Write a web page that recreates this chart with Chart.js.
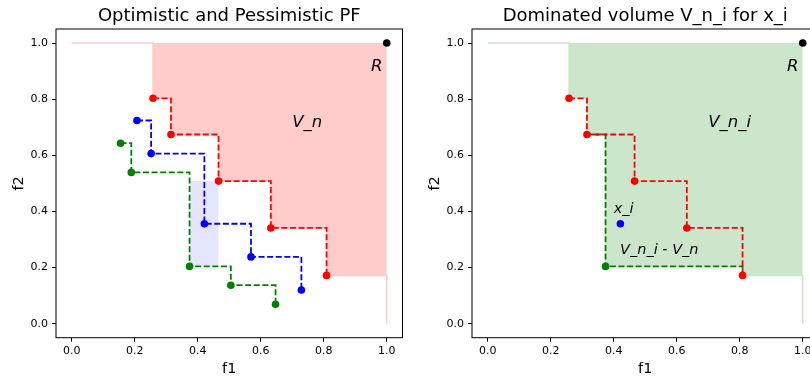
<!DOCTYPE html>
<html>
<head>
<meta charset="utf-8">
<script src="https://cdn.jsdelivr.net/npm/chart.js@4.4.1/dist/chart.umd.min.js"></script>
<style>
  html, body { margin: 0; padding: 0; background: #fff; overflow: hidden; }
  #wrap { position: relative; width: 810px; height: 376px; overflow: hidden; }
  canvas { position: absolute; top: 0; }
</style>
</head>
<body>
<div id="wrap">
  <canvas id="left" width="410" height="376" style="left:0px"></canvas>
  <canvas id="right" width="410" height="376" style="left:416px"></canvas>
</div>
<script>
// pessimistic (red), candidate (blue), optimistic (green) fronts
const redF1 = [0.258, 0.315, 0.466, 0.632, 0.809];
const redF2 = [0.803, 0.674, 0.508, 0.341, 0.172];
const blueF1 = [0.207, 0.252, 0.421, 0.569, 0.729];
const blueF2 = [0.724, 0.606, 0.356, 0.238, 0.120];
const greenF1 = [0.155, 0.189, 0.374, 0.505, 0.647];
const greenF2 = [0.643, 0.539, 0.204, 0.137, 0.069];
const refF1 = [1.0];
const refF2 = [1.0];
const xiF1 = [0.421];
const xiF2 = [0.356];
// dominated volume of the red front (step-post, up to R)
const vnF1 = [0, 0.258, 0.315, 0.466, 0.632, 0.809, 1.0];
const vnF2 = [1, 0.803, 0.674, 0.508, 0.341, 0.172, 0];
// dominated volume once the green point is added
const vniF1 = [0, 0.258, 0.315, 0.374, 0.809, 1.0];
const vniF2 = [1, 0.803, 0.674, 0.204, 0.172, 0];
const newF1 = [0.315, 0.374, 0.809];
const newF2 = [0.674, 0.204, 0.172];
const tickVals = [0, 0.2, 0.4, 0.6, 0.8, 1.0];

const FONT = '"DejaVu Sans", sans-serif';

function pts(xs, ys) { return xs.map((x, i) => ({ x: x, y: ys[i] })); }

function stepLine(xs, ys, color, radius) {
  return {
    data: pts(xs, ys), borderColor: color, backgroundColor: color,
    borderWidth: 1.8, borderDash: [6, 2.6], stepped: true, fill: false,
    pointRadius: radius === undefined ? 3.8 : radius, pointBorderWidth: 0,
    pointBackgroundColor: color
  };
}

function dots(xs, ys, color) {
  return {
    data: pts(xs, ys), showLine: false, borderColor: color, backgroundColor: color,
    pointRadius: 3.8, pointBorderWidth: 0, pointBackgroundColor: color
  };
}

function region(xs, ys, color, top, bw) {
  return {
    data: pts(xs, ys), borderColor: color, backgroundColor: color,
    borderWidth: bw, stepped: true, fill: { value: top }, pointRadius: 0
  };
}

function axes() {
  const tickFont = { family: FONT, size: 11 };
  const grid = { drawOnChartArea: false, drawTicks: true, tickLength: 4, color: '#000', lineWidth: 1 };
  return {
    x: {
      type: 'linear', min: -0.05, max: 1.05,
      afterBuildTicks: s => { s.ticks = tickVals.map(v => ({ value: v })); },
      afterFit: s => { s.height = 38.3; },
      ticks: { font: tickFont, color: '#000', padding: 3, maxRotation: 0, autoSkip: false,
               callback: v => Number(v).toFixed(1) },
      grid: grid, border: { display: false }
    },
    y: {
      type: 'linear', min: -0.05, max: 1.05,
      afterBuildTicks: s => { s.ticks = tickVals.map(v => ({ value: v })); },
      afterFit: s => { s.width = 56; },
      ticks: { font: tickFont, color: '#000', padding: 4, autoSkip: false,
               callback: v => Number(v).toFixed(1) },
      grid: grid, border: { display: false }
    }
  };
}

function decor(title, notes) {
  return {
    id: 'decor',
    afterDatasetsDraw(chart) {
      const { ctx, scales: { x, y } } = chart;
      ctx.save();
      ctx.fillStyle = '#000';
      ctx.textBaseline = 'alphabetic';
      ctx.textAlign = 'left';
      notes.forEach(n => {
        ctx.font = 'italic ' + n.size + 'px ' + FONT;
        ctx.fillText(n.text, x.getPixelForValue(n.x), y.getPixelForValue(n.y));
      });
      ctx.restore();
    },
    afterDraw(chart) {
      const { ctx, chartArea: a } = chart;
      ctx.save();
      ctx.strokeStyle = '#000';
      ctx.lineWidth = 1;
      ctx.strokeRect(a.left, a.top, a.right - a.left, a.bottom - a.top);
      ctx.fillStyle = '#000';
      ctx.textAlign = 'center';
      ctx.textBaseline = 'alphabetic';
      const cx = (a.left + a.right) / 2;
      ctx.font = '18px ' + FONT;
      ctx.fillText(title, cx, 21);
      ctx.font = '14.5px ' + FONT;
      ctx.fillText('f1', cx, 373);
      ctx.translate(23.3, (a.top + a.bottom) / 2);
      ctx.rotate(-Math.PI / 2);
      ctx.fillText('f2', 0, 0);
      ctx.restore();
    }
  };
}

function baseOptions() {
  return {
    responsive: false, animation: false, devicePixelRatio: 1,
    layout: { padding: { top: 29, left: 0, right: 7.5, bottom: 0 } },
    plugins: { legend: { display: false }, tooltip: { enabled: false }, title: { display: false } },
    scales: axes()
  };
}

new Chart(document.getElementById('left').getContext('2d'), {
  type: 'line',
  data: {
    datasets: [
      dots(refF1, refF2, '#000000'),
      stepLine(redF1, redF2, '#ff0000'),
      stepLine(blueF1, blueF2, '#0000ff'),
      stepLine(greenF1, greenF2, '#008000'),
      region([greenF1[2], redF1[2]], [greenF2[2], greenF2[2]], '#e5e5ff', redF2[2], 0),
      region(vnF1, vnF2, '#ffcccc', 1, 1.5)
    ]
  },
  options: baseOptions(),
  plugins: [decor('Optimistic and Pessimistic PF', [
    { text: 'V_n', x: 0.70, y: 0.70, size: 16.5 },
    { text: 'R', x: 0.95, y: 0.90, size: 16.5 }
  ])]
});

new Chart(document.getElementById('right').getContext('2d'), {
  type: 'line',
  data: {
    datasets: [
      dots(refF1, refF2, '#000000'),
      dots(xiF1, xiF2, '#0000ff'),
      stepLine(redF1, redF2, '#ff0000'),
      stepLine(newF1, newF2, '#008000', [0, 3.8, 0]),
      region(vniF1, vniF2, '#cce6cc', 1, 1.5)
    ]
  },
  options: baseOptions(),
  plugins: [decor('Dominated volume V_n_i for x_i', [
    { text: 'V_n_i', x: 0.70, y: 0.70, size: 16.5 },
    { text: 'R', x: 0.95, y: 0.90, size: 16.5 },
    { text: 'x_i', x: 0.40, y: 0.393, size: 14.5 },
    { text: 'V_n_i - V_n', x: 0.42, y: 0.248, size: 14.5 }
  ])]
});
</script>
</body>
</html>
